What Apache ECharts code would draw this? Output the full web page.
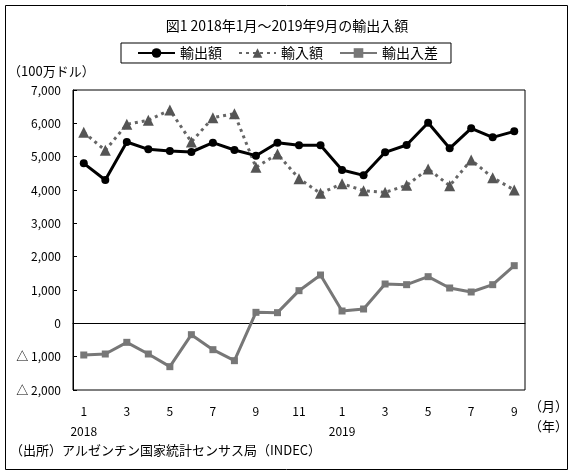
<!DOCTYPE html>
<html><head><meta charset="utf-8">
<script src="https://cdn.jsdelivr.net/npm/echarts@6/dist/echarts.min.js"></script>
<style>html,body{margin:0;padding:0;background:#fff}#c{width:574px;height:471px}</style>
</head><body><div id="c"></div>
<script>
const months = ['1','2','3','4','5','6','7','8','9','10','11','12','1','2','3','4','5','6','7','8','9'];
const years = {0:'2018', 12:'2019'};
const exportsV = [4800,4300,5440,5220,5170,5140,5420,5200,5030,5420,5340,5340,4600,4440,5130,5350,6020,5250,5850,5580,5760];
const importsV = [5730,5190,5970,6090,6400,5440,6170,6290,4680,5080,4340,3900,4190,3980,3930,4140,4630,4130,4900,4370,4000];
const balanceV = [-950,-920,-570,-920,-1300,-340,-790,-1120,330,320,980,1450,370,430,1180,1160,1400,1060,940,1160,1730];
const seriesNames = ['輸出額','輸入額','輸出入差'];
const FONT = '"Noto Sans CJK JP", sans-serif';

const chart = echarts.init(document.getElementById('c'));
chart.setOption({
  animation:false,
  textStyle:{fontFamily:FONT,color:'#000'},
  title:{text:'図1 2018年1月～2019年9月の輸出入額',left:'center',top:14,
    textStyle:{fontFamily:FONT,fontSize:14,fontWeight:'normal',color:'#000'}},
  legend:{left:121,top:43,padding:[3,13,3,16],itemWidth:37,itemHeight:12,itemGap:16,
    borderColor:'#000',borderWidth:1,
    textStyle:{fontFamily:FONT,fontSize:14,color:'#000'},data:seriesNames},
  grid:{left:73,top:90,right:49,bottom:81,show:true,borderColor:'#000',borderWidth:1},
  xAxis:[{type:'category',data:months,position:'bottom',
      axisLine:{onZero:true,lineStyle:{color:'#000',width:1}},
      axisTick:{inside:true,length:4,lineStyle:{color:'#000'}},
      axisLabel:{show:false}},
    {type:'category',data:months,position:'bottom',
      axisLine:{show:false},axisTick:{show:false},
      axisLabel:{interval:1,margin:11,fontSize:12,lineHeight:20,color:'#000',fontFamily:FONT,
        formatter:(v,i)=> years[i] ? v+'\n'+years[i] : v}}],
  yAxis:{type:'value',min:-2000,max:7000,interval:1000,
    axisLine:{show:true,lineStyle:{color:'#000'}},
    axisTick:{show:true,inside:true,length:4,lineStyle:{color:'#000'}},
    splitLine:{show:false},
    axisLabel:{margin:12,fontSize:12,color:'#000',fontFamily:FONT,
      formatter:v=>{const s=Math.abs(v).toLocaleString('en-US');return v<0?'△ '+s:s;}}},
  series:[
    {name:seriesNames[0],type:'line',data:exportsV,symbol:'circle',symbolSize:8,
      itemStyle:{color:'#000'},lineStyle:{color:'#000',width:3},z:3},
    {name:seriesNames[1],type:'line',data:importsV,symbol:'triangle',symbolSize:11,
      itemStyle:{color:'#555'},lineStyle:{color:'#666',width:3,type:[3,4]},z:2},
    {name:seriesNames[2],type:'line',data:balanceV,symbol:'rect',symbolSize:7,
      itemStyle:{color:'#777'},lineStyle:{color:'#777',width:3},z:2}
  ],
  graphic:[
    {type:'rect',left:3,top:3,shape:{width:562,height:464},style:{fill:'none',stroke:'#000',lineWidth:1},silent:true},
    {type:'text',left:8,top:65,style:{text:'（100万ドル）',font:'13px '+FONT,fill:'#000'}},
    {type:'text',left:529,top:400,style:{text:'（月）',font:'13px '+FONT,fill:'#000'}},
    {type:'text',left:529,top:420,style:{text:'（年）',font:'13px '+FONT,fill:'#000'}},
    {type:'text',left:10,top:444,style:{text:'（出所）アルゼンチン国家統計センサス局（INDEC）',font:'13px '+FONT,fill:'#000'}}
  ]
});
</script></body></html>
